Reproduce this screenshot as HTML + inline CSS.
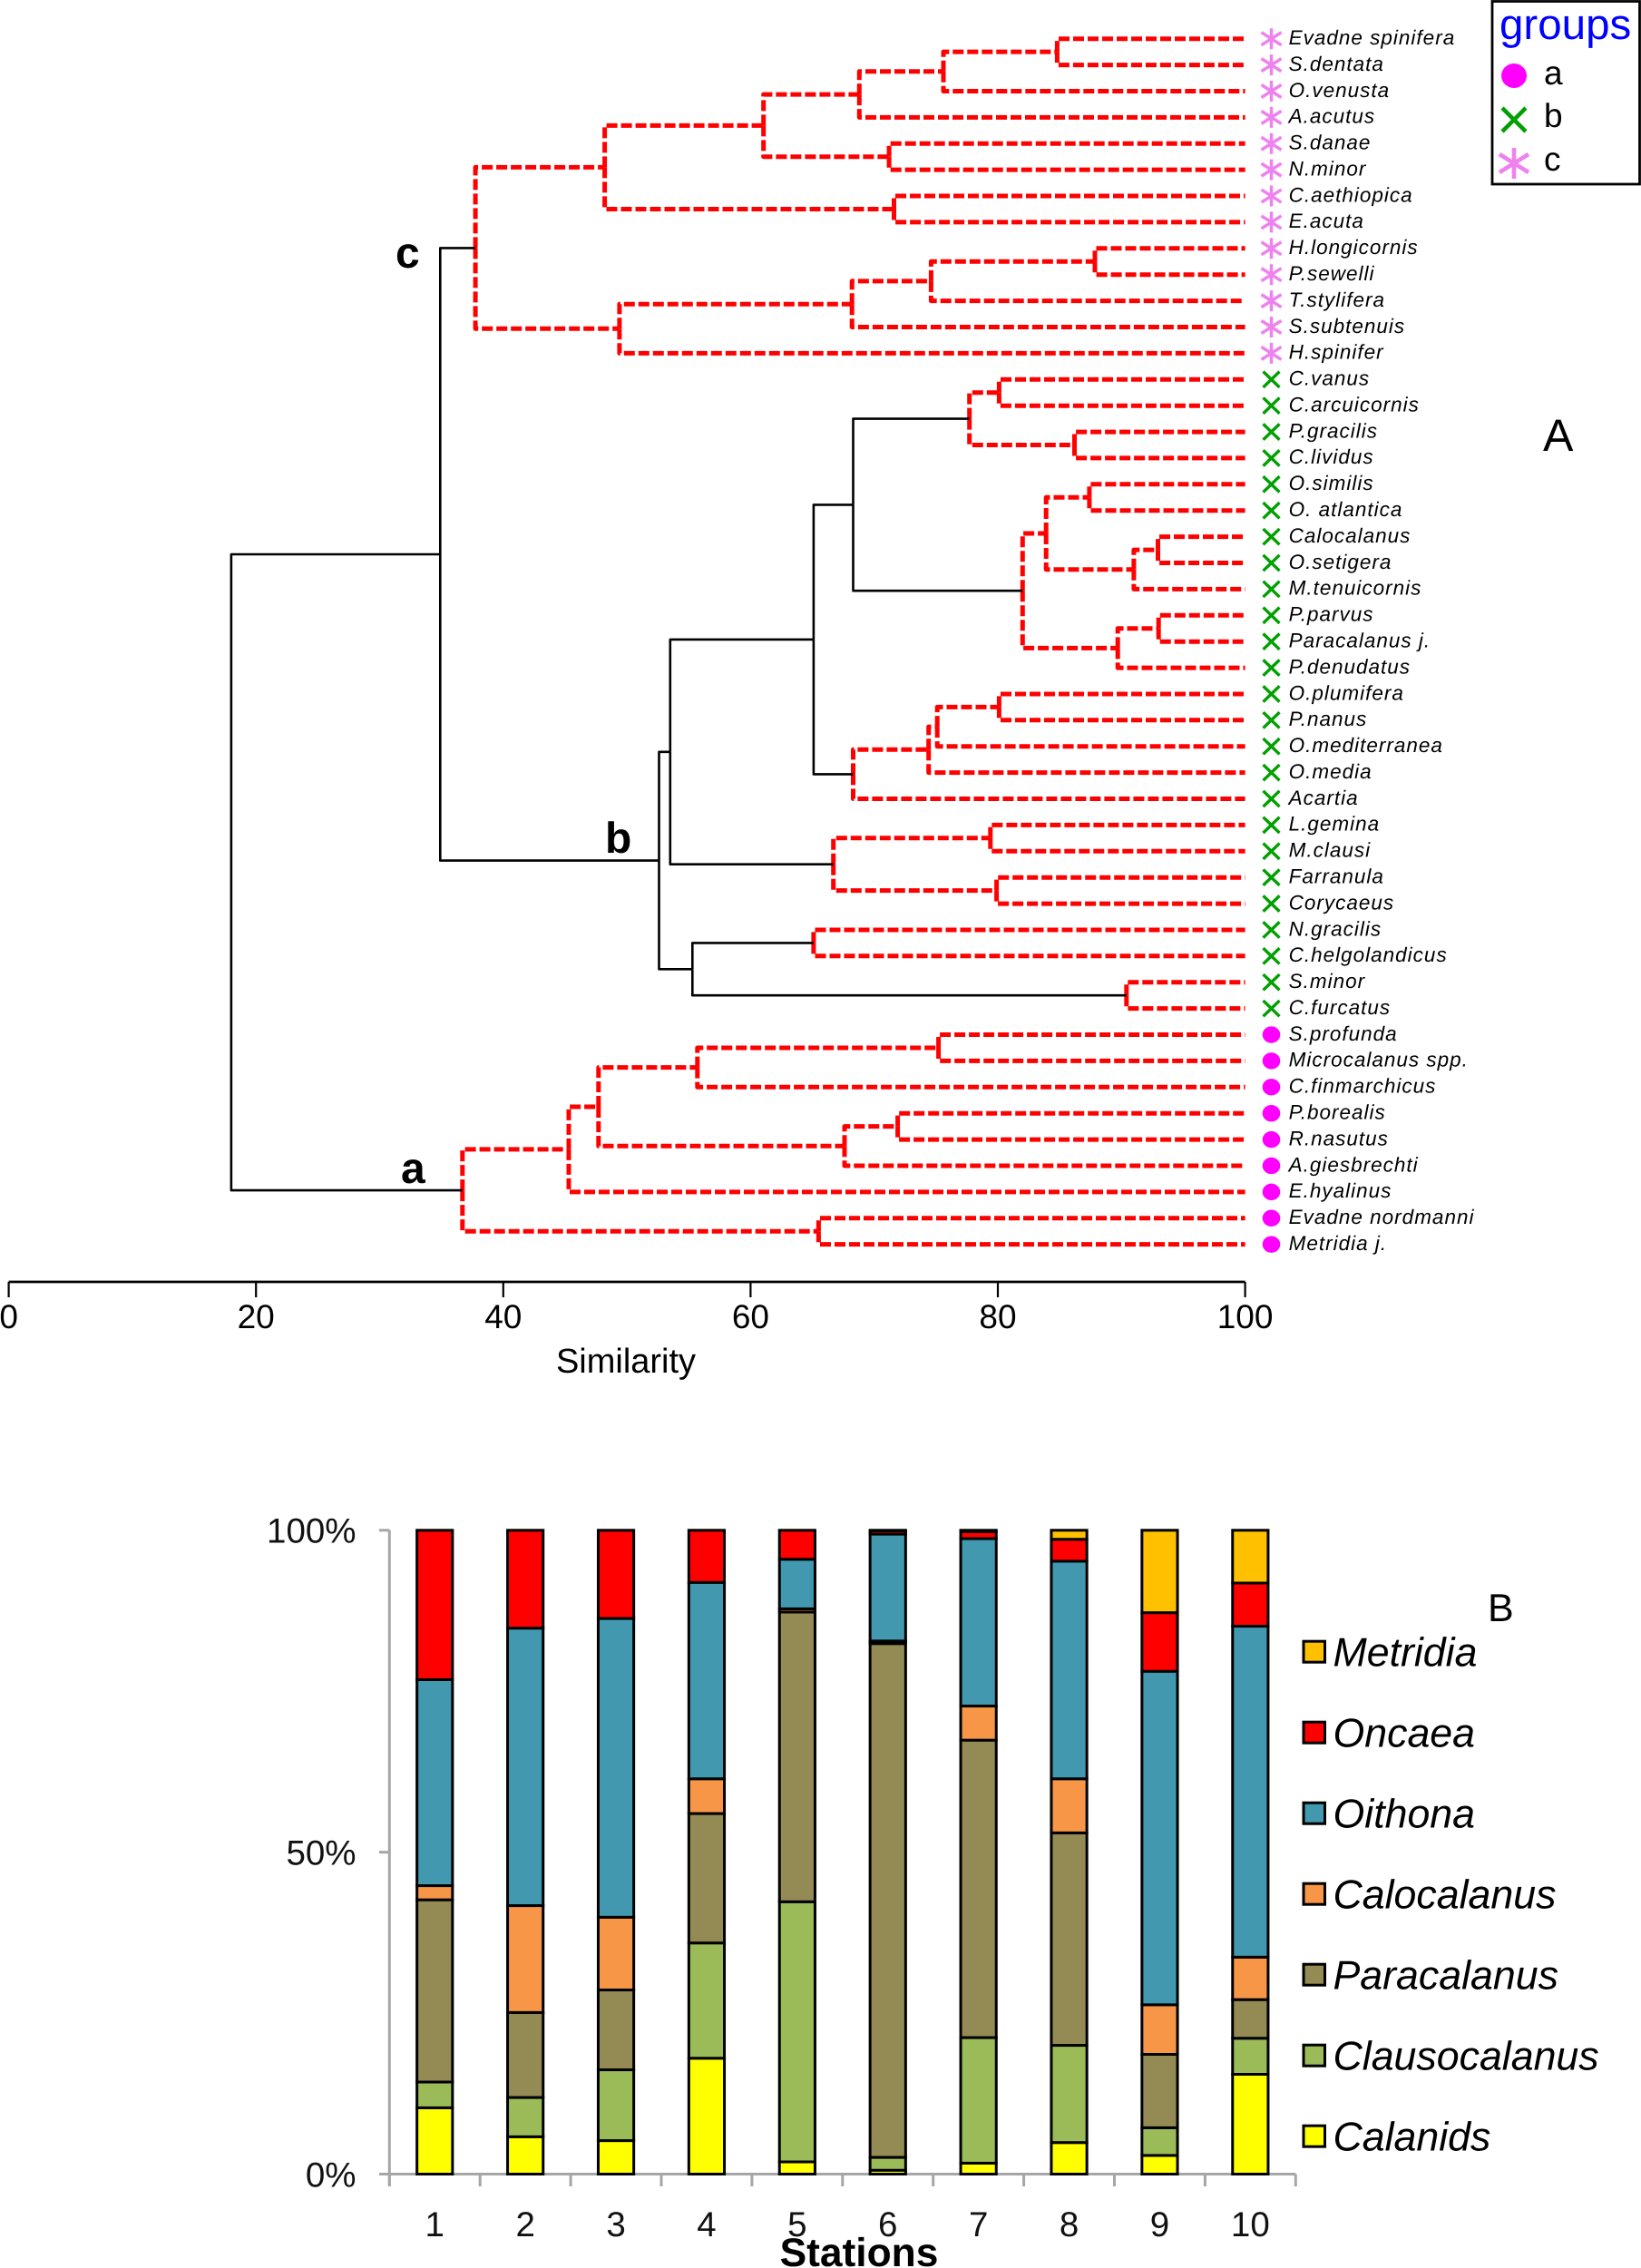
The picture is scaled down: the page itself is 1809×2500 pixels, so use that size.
<!DOCTYPE html>
<html lang="en">
<head>
<meta charset="utf-8">
<title>Similarity dendrogram and station composition</title>
<style>
  html,body{margin:0;padding:0;background:#fff;width:1809px;height:2500px;overflow:hidden}
  svg{display:block;font-family:"Liberation Sans",Arial,sans-serif;text-rendering:geometricPrecision}
  .leaf{font-size:22.5px;font-style:italic;letter-spacing:1px;fill:#000}
  .tick{font-size:37px;fill:#000}
  .pct{font-size:38.5px;fill:#111}
  .leg{font-size:44.7px;font-style:italic;fill:#000}
  .grp{font-size:48px;font-weight:bold;fill:#000}
</style>
</head>
<body>
<svg id="figure" xmlns="http://www.w3.org/2000/svg" width="1809" height="2500" viewBox="0 0 1809 2500">
  <rect width="1809" height="2500" fill="#fff"/>
  <g id="dendro"></g>
  <g id="dendroAxis"></g>
  <g id="leaves"></g>
  <text x="690" y="1513" text-anchor="middle" font-size="38">Similarity</text>
  <text class="grp" x="436" y="295">c</text>
  <text class="grp" x="667" y="940">b</text>
  <text class="grp" x="442" y="1304">a</text>
  <text x="1701" y="497" font-size="50">A</text>

  <g>
    <rect x="1645" y="1.5" width="162.5" height="201.5" fill="#fff" stroke="#000" stroke-width="2.8"/>
    <text x="1653" y="43" font-size="47.5" fill="#0000ff">groups</text>
    <ellipse cx="1669" cy="83.5" rx="14" ry="13.5" fill="#ff00ff"/>
    <text x="1702" y="93" font-size="37">a</text>
    <path d="M1656 119L1682 145M1656 145L1682 119" stroke="#00a000" stroke-width="4.5" fill="none"/>
    <text x="1702" y="140" font-size="37">b</text>
    <path d="M1669 163V197M1653 170L1685 190M1653 190L1685 170" stroke="#ee82ee" stroke-width="4.6" fill="none"/>
    <text x="1702" y="188" font-size="37">c</text>
  </g>

  <g id="barAxes"></g>
  <g id="bars"></g>
  <g id="barLabels"></g>
  <g id="barLegend"></g>
  <text x="947" y="2498" text-anchor="middle" font-size="44.3" font-weight="bold">Stations</text>
  <text x="1640" y="1787" font-size="43">B</text>
</svg>

<script>
// ---------- Panel A data ----------
const leafNames = ["Evadne spinifera","S.dentata","O.venusta","A.acutus","S.danae","N.minor","C.aethiopica","E.acuta","H.longicornis","P.sewelli","T.stylifera","S.subtenuis","H.spinifer","C.vanus","C.arcuicornis","P.gracilis","C.lividus","O.similis","O. atlantica","Calocalanus","O.setigera","M.tenuicornis","P.parvus","Paracalanus j.","P.denudatus","O.plumifera","P.nanus","O.mediterranea","O.media","Acartia","L.gemina","M.clausi","Farranula","Corycaeus","N.gracilis","C.helgolandicus","S.minor","C.furcatus","S.profunda","Microcalanus spp.","C.finmarchicus","P.borealis","R.nasutus","A.giesbrechti","E.hyalinus","Evadne nordmanni","Metridia j."];
const leafGroups = "cccccccccccccbbbbbbbbbbbbbbbbbbbbbbbbbaaaaaaaaa";
// Children: numbers below 100 are leaves, 100+n refers to merge n.
const mergeChildren = [[0,1],[100,2],[101,3],[4,5],[102,103],[6,7],[104,105],[8,9],[107,10],[108,11],[109,12],[106,110],[13,14],[15,16],[112,113],[17,18],[19,20],[116,21],[115,117],[22,23],[119,24],[118,120],[114,121],[25,26],[123,27],[124,28],[125,29],[122,126],[30,31],[32,33],[128,129],[127,130],[34,35],[36,37],[132,133],[131,134],[111,135],[38,39],[137,40],[41,42],[139,43],[138,140],[141,44],[45,46],[142,143],[136,144]];
const mergeSimilarity = [84.8,75.6,68.8,71.2,61.05,71.6,48.2,87.85,74.6,68.2,49.4,37.75,80.1,86.2,77.7,87.4,92.95,91,83.9,93,89.7,82,68.3,80.1,75.1,74.4,68.3,65.1,79.4,79.9,66.7,53.5,65.1,90.4,55.3,52.6,34.9,75.2,55.7,71.9,67.6,47.7,45.3,65.5,36.7,18];
// Merges that differ significantly (solid black) — the rest are the dashed red ones.
const solidMerges = [22,27,31,34,35,36,45];
const similarityTicks = [0,20,40,60,80,100];

// ---------- Panel B data ----------
const stations = ["1","2","3","4","5","6","7","8","9","10"];
const seriesNames = ["Calanids","Clausocalanus","Paracalanus","Calocalanus","Oithona","Oncaea","Metridia"];
const calanids      = [10.3,5.8,5.2,18,1.9,0.6,1.7,4.9,2.9,15.5];
const clausocalanus = [4,6.1,11,17.9,40.4,2,19.5,15.1,4.3,5.6];
const paracalanus   = [28.3,13.2,12.4,20.1,45,79.8,46.2,33,11.4,6];
const calocalanus   = [2.2,16.6,11.3,5.4,0.5,0.4,5.3,8.4,7.7,6.6];
const oithona       = [32,43.1,46.4,30.5,7.7,16.6,26,33.8,51.8,51.4];
const oncaea        = [23.2,15.2,13.7,8.1,4.5,0.5,1.1,3.4,9.1,6.7];
const metridia      = [0,0,0,0,0,0.1,0.2,1.4,12.8,8.2];
const percentTicks = ["0%","50%","100%"];

const NS = "http://www.w3.org/2000/svg";
function mk(tag, attrs, parent){
  const el = document.createElementNS(NS, tag);
  for (const k in attrs) el.setAttribute(k, attrs[k]);
  parent.appendChild(el);
  return el;
}

// ---------- Panel A scales ----------
const simX = s => 9.6 + 13.63 * s;
const leafY = i => 42.7 + 28.89 * i;

const dendro = document.getElementById("dendro");
const nodes = [];
function pos(c){
  return c < 100 ? {x: simX(100), y: leafY(c)} : nodes[c - 100];
}
mergeChildren.forEach((kids, m) => {
  const a = pos(kids[0]), b = pos(kids[1]);
  const x = simX(mergeSimilarity[m]), y = (a.y + b.y) / 2;
  nodes.push({x, y});
  const solid = solidMerges.includes(m);
  [a, b].forEach((child, side) => {
    const p = mk("path", {
      d: `M${x.toFixed(1)} ${y.toFixed(1)}V${child.y.toFixed(1)}H${child.x.toFixed(1)}`,
      fill: "none",
      stroke: solid ? "#000" : "#ff0000",
      "stroke-width": solid ? 2.6 : 5,
      "stroke-dasharray": solid ? "none" : "12 4",
      "stroke-linejoin": "round"
    }, dendro);
    
    
  });
});

const dendroAxis = document.getElementById("dendroAxis");
const axisLine = mk("line", {x1: simX(0), x2: simX(100), y1: 1413, y2: 1413, stroke: "#000", "stroke-width": 2.8}, dendroAxis);


similarityTicks.forEach(t => {
  const tk = mk("line", {x1: simX(t), x2: simX(t), y1: 1413, y2: 1430, stroke: "#000", "stroke-width": 2.2}, dendroAxis);
  
  
  const lb = mk("text", {class: "tick", x: simX(t), y: 1464, "text-anchor": "middle"}, dendroAxis);
  lb.textContent = t;
  
  
});

const leaves = document.getElementById("leaves");
leafNames.forEach((name, i) => {
  const y = leafY(i), x = 1401.5, g = leafGroups[i];
  let mark;
  if (g === "a") {
    mark = mk("ellipse", {cx: x, cy: y, rx: 9.8, ry: 9.2, fill: "#ff00ff"}, leaves);
  } else if (g === "b") {
    mark = mk("path", {d: `M${x-9} ${y-8.7}L${x+9} ${y+8.7}M${x-9} ${y+8.7}L${x+9} ${y-8.7}`, stroke: "#00a000", "stroke-width": 3.4, fill: "none"}, leaves);
  } else {
    mark = mk("path", {d: `M${x} ${y-11.5}V${y+11.5}M${x-11} ${y-7}L${x+11} ${y+7}M${x-11} ${y+7}L${x+11} ${y-7}`, stroke: "#ee82ee", "stroke-width": 3.5, fill: "none"}, leaves);
  }
  
  
  const t = mk("text", {class: "leaf", x: 1420.6, y: y + 6.3}, leaves);
  t.setAttribute("xml:space", "preserve");
  t.textContent = name;
  
  
});

// ---------- Panel B scales ----------
const pctY = p => 2396.5 - 7.097 * p;
const bandW = 99.9, barLeft = 429.3;
const bandX = i => barLeft + bandW * i;
const seriesValues = [calanids, clausocalanus, paracalanus, calocalanus, oithona, oncaea, metridia];
const seriesColors = ["#ffff00","#9bbb59","#948a54","#f79646","#4198af","#ff0000","#ffc000"];

const barAxes = document.getElementById("barAxes");
const barLabels = document.getElementById("barLabels");
const yLine = mk("line", {x1: barLeft, x2: barLeft, y1: pctY(100), y2: 2410, stroke: "#a6a6a6", "stroke-width": 3}, barAxes);


const xLine = mk("line", {x1: 418, x2: bandX(10), y1: pctY(0), y2: pctY(0), stroke: "#a6a6a6", "stroke-width": 3}, barAxes);


percentTicks.forEach(lbl => {
  const v = parseFloat(lbl);
  const tk = mk("line", {x1: 418, x2: barLeft, y1: pctY(v), y2: pctY(v), stroke: "#a6a6a6", "stroke-width": 3}, barAxes);
  
  
  const t = mk("text", {class: "pct", x: 392.5, y: pctY(v) + 13.8, "text-anchor": "end"}, barLabels);
  t.textContent = lbl;
  
  
});
for (let i = 0; i <= stations.length; i++) {
  const tk = mk("line", {x1: bandX(i), x2: bandX(i), y1: pctY(0), y2: 2410, stroke: "#a6a6a6", "stroke-width": 3}, barAxes);
  
  
}

const bars = document.getElementById("bars");
stations.forEach((st, i) => {
  const total = seriesValues.reduce((sum, arr) => sum + arr[i], 0);
  let cum = 0;
  const cx = bandX(i) + bandW / 2;
  seriesValues.forEach((arr, s) => {
    const v = arr[i] / total * 100;
    if (v <= 0) return;
    const y1 = pctY(cum), y0 = pctY(cum + v);
    const r = mk("rect", {x: cx - 19.6, y: y0, width: 39.2, height: y1 - y0, fill: seriesColors[s], stroke: "#000", "stroke-width": 3}, bars);
    
    
    cum += v;
  });
  const t = mk("text", {class: "pct", x: cx, y: 2465, "text-anchor": "middle"}, barLabels);
  t.textContent = st;
  
  
});

const barLegend = document.getElementById("barLegend");
seriesNames.forEach((name, s) => {
  const row = seriesNames.length - 1 - s;
  const cy = 1820.7 + 89 * row;
  const sw = mk("rect", {x: 1437, y: cy - 11.5, width: 23.5, height: 23, fill: seriesColors[s], stroke: "#000", "stroke-width": 3}, barLegend);
  
  
  const t = mk("text", {class: "leg", x: 1469.5, y: cy + 16}, barLegend);
  t.textContent = name;
  
  
});
</script>
</body>
</html>
